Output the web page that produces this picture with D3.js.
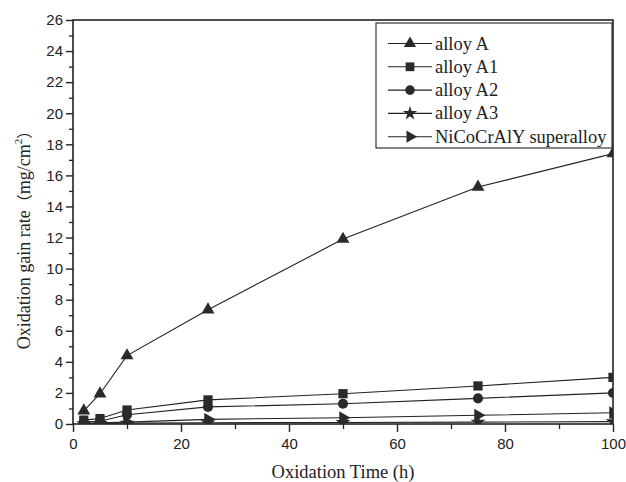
<!DOCTYPE html>
<html>
<head>
<meta charset="utf-8"/>
<style>
  body { margin: 0; background: #fff; }
  .tick text { font-family: "Liberation Sans", Arial, sans-serif; font-size: 15px; fill: #222; }
  .ttl { font-family: "Liberation Serif", "Times New Roman", serif; fill: #222; }
</style>
</head>
<body>
<div id="chart"></div>
<script src="https://cdn.jsdelivr.net/npm/d3@7"></script>
<script>

// data
var hours = [2, 5, 10, 25, 50, 75, 100];
var alloyA   = [0.85, 1.95, 4.4, 7.35, 11.9, 15.25, 17.4];
var alloyA1  = [0.25, 0.35, 0.9, 1.55, 1.95, 2.45, 3.0];
var alloyA2  = [0.12, 0.18, 0.6, 1.1, 1.3, 1.65, 2.0];
var alloyA3  = [0.02, 0.04, 0.06, 0.08, 0.1, 0.12, 0.15];
var superNi  = [0.05, 0.08, 0.12, 0.3, 0.4, 0.56, 0.72];

var names = ["alloy A", "alloy A1", "alloy A2", "alloy A3", "NiCoCrAlY superalloy"];
var series = [alloyA, alloyA1, alloyA2, alloyA3, superNi];
var shapes = ["triup", "square", "circle", "star", "triright"];

var xTicks = [0, 20, 40, 60, 80, 100];
var yTicks = d3.range(0, 27, 2);

var W = 626, H = 482;
var mar = {l: 73, r: 13, t: 20, b: 58};
var w = W - mar.l - mar.r, h = H - mar.t - mar.b;

var svg = d3.select("#chart").append("svg")
    .attr("width", W).attr("height", H);

var g = svg.append("g").attr("transform", "translate(" + mar.l + "," + mar.t + ")");

var x = d3.scaleLinear().domain([0, 100]).range([0, w]);
var y = d3.scaleLinear().domain([0, 26]).range([h, 0]);

// minor ticks first
g.append("g")
    .attr("transform", "translate(0," + h + ")")
    .call(d3.axisBottom(x).tickValues(d3.range(10, 100, 20)).tickSize(5).tickFormat(""))
    .call(function(a) { a.select(".domain").remove(); a.selectAll("line").attr("stroke", "#222").attr("stroke-width", 1.3); });
g.append("g")
    .call(d3.axisLeft(y).tickValues(d3.range(1, 26, 2)).tickSize(4).tickFormat(""))
    .call(function(a) { a.select(".domain").remove(); a.selectAll("line").attr("stroke", "#222").attr("stroke-width", 1.3); });

// major ticks
var xa = g.append("g")
    .attr("transform", "translate(0," + h + ")")
    .call(d3.axisBottom(x).tickValues(xTicks).tickSize(8).tickPadding(6).tickSizeOuter(0));
var ya = g.append("g")
    .call(d3.axisLeft(y).tickValues(yTicks).tickSize(7).tickPadding(3).tickSizeOuter(0));
[xa, ya].forEach(function(a) {
  a.select(".domain").remove();
  a.selectAll("line").attr("stroke", "#222").attr("stroke-width", 1.4);
});

// frame
g.append("rect")
    .attr("width", w).attr("height", h)
    .attr("fill", "none").attr("stroke", "#222").attr("stroke-width", 1.6);

svg.append("defs").append("clipPath").attr("id", "clip")
  .append("rect").attr("width", w).attr("height", h);

function symbolFor(s, size) {
  var type = {triup: d3.symbolTriangle, square: d3.symbolSquare, circle: d3.symbolCircle,
              star: d3.symbolStar, triright: d3.symbolTriangle}[s];
  return d3.symbol().type(type).size(size)();
}
var sizes = {triup: 72, square: 85, circle: 80, star: 70, triright: 72};

var line = d3.line().x(function(d) { return x(d[0]); }).y(function(d) { return y(d[1]); });

var plot = g.append("g").attr("clip-path", "url(#clip)");

// draw from bottom series up so markers overlap like the original
for (var k = series.length - 1; k >= 0; k--) {
  var pts = hours.map(function(t, i) { return [t, series[k][i]]; });
  plot.append("path")
      .datum(pts)
      .attr("d", line)
      .attr("fill", "none")
      .attr("stroke", "#222")
      .attr("stroke-width", 1.1);
  plot.selectAll(".m" + k)
      .data(pts)
      .enter().append("path")
      .attr("class", "m" + k)
      .attr("d", symbolFor(shapes[k], sizes[shapes[k]]))
      .attr("transform", function(d) {
        return "translate(" + x(d[0]) + "," + y(d[1]) + ")" + (shapes[k] == "triright" ? " rotate(90)" : "");
      })
      .attr("fill", "#2a2a2a");
}

// legend
var lg = svg.append("g").attr("transform", "translate(376,23)");
lg.append("rect")
    .attr("width", 236).attr("height", 125)
    .attr("fill", "#fff").attr("stroke", "#222").attr("stroke-width", 1.1);
names.forEach(function(n, i) {
  var ly = 20.5 + i * 23.3;
  lg.append("line")
      .attr("x1", 12).attr("x2", 56).attr("y1", ly).attr("y2", ly)
      .attr("stroke", "#222").attr("stroke-width", 1.1);
  lg.append("path")
      .attr("d", symbolFor(shapes[i], sizes[shapes[i]] * 0.9))
      .attr("transform", "translate(34," + ly + ")" + (shapes[i] == "triright" ? " rotate(90)" : ""))
      .attr("fill", "#2a2a2a");
  lg.append("text")
      .attr("class", "ttl")
      .attr("x", 59).attr("y", ly + 6)
      .attr("font-size", 18.5)
      .text(n);
});

// axis titles
svg.append("text")
    .attr("class", "ttl")
    .attr("x", mar.l + w / 2).attr("y", 478)
    .attr("text-anchor", "middle")
    .attr("font-size", 18.5)
    .text("Oxidation Time (h)");

var yt = svg.append("text")
    .attr("class", "ttl")
    .attr("transform", "translate(30,236) rotate(-90)")
    .attr("text-anchor", "middle")
    .attr("font-size", 18);
yt.append("tspan").text("Oxidation gain rate");
yt.append("tspan").attr("font-family", "'Noto Sans CJK SC', serif").attr("font-size", 16).text("（");
yt.append("tspan").text("mg/cm");
yt.append("tspan").attr("font-size", 11).attr("dy", -8).text("2");
yt.append("tspan").attr("dy", 8).attr("font-family", "'Noto Sans CJK SC', serif").attr("font-size", 16).text("）");

</script>
</body>
</html>
